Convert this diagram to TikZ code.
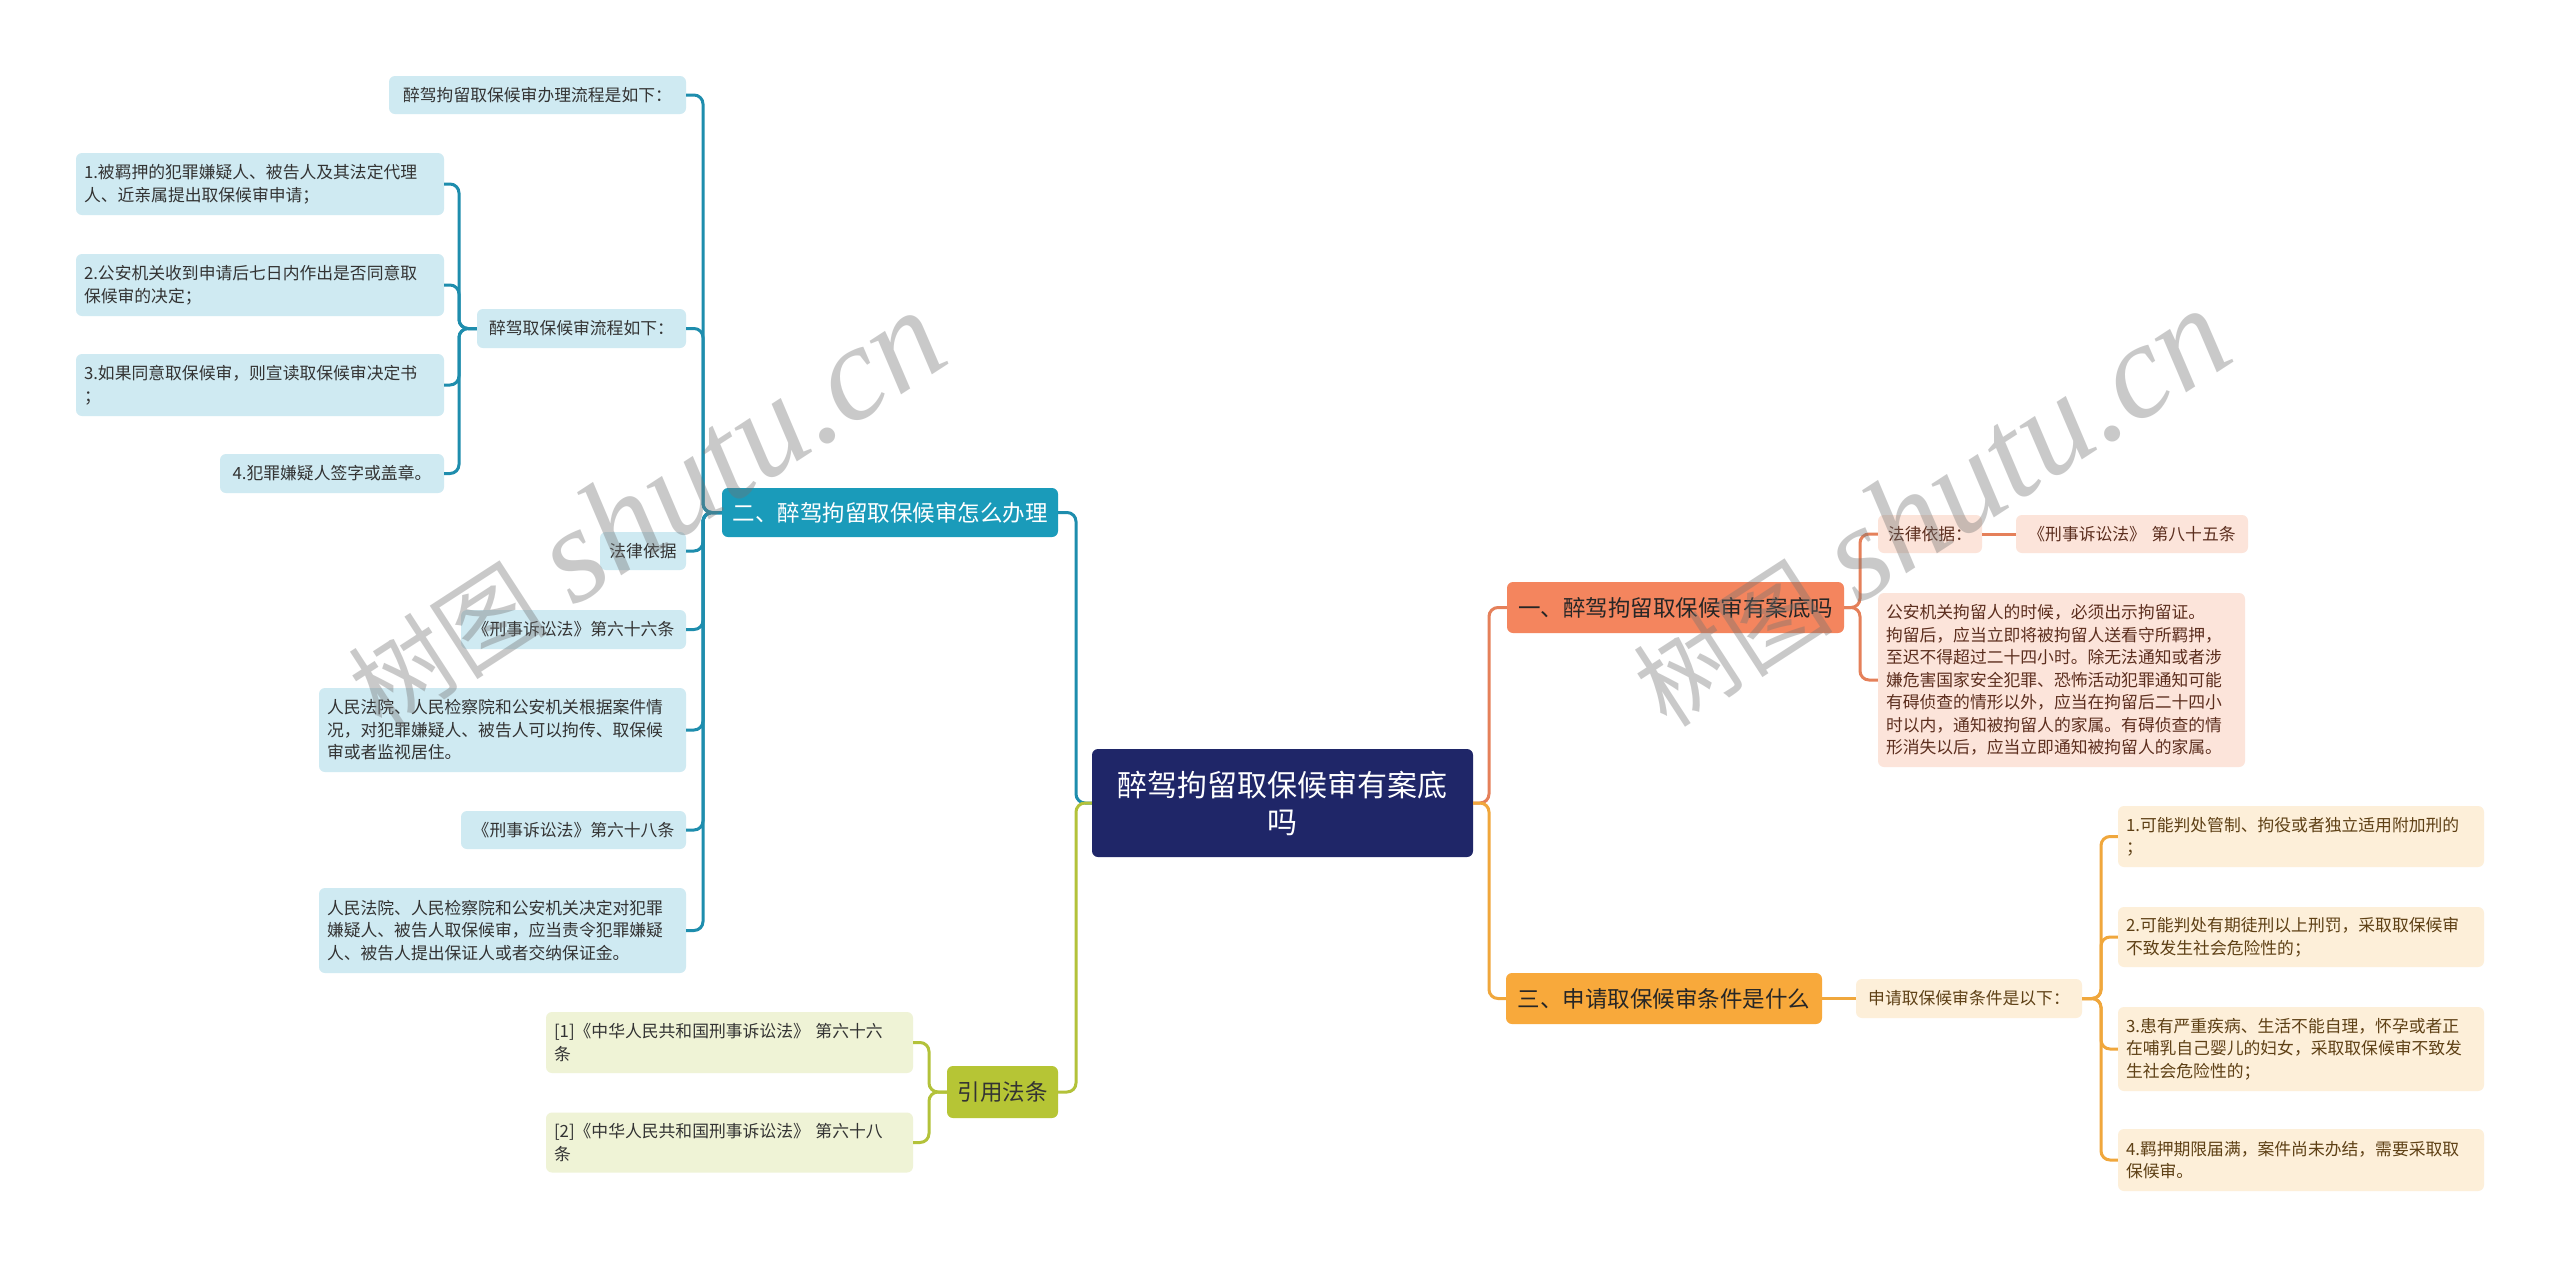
\documentclass[tikz,border=0pt]{standalone}
\usepackage{fontspec}
\newfontfamily\cjk{Noto Sans CJK SC}
\newfontfamily\wmlat{Liberation Serif}
\definecolor{navy}{HTML}{1F2668}
\definecolor{tealA}{HTML}{1A9BBA}
\definecolor{tealL}{HTML}{1E8DAD}
\definecolor{tealC}{HTML}{CFEAF2}
\definecolor{oliveA}{HTML}{B6C535}
\definecolor{oliveL}{HTML}{B3C23A}
\definecolor{oliveC}{HTML}{EFF3D6}
\definecolor{coralA}{HTML}{F4855E}
\definecolor{coralL}{HTML}{E5805A}
\definecolor{coralC}{HTML}{FCE4DA}
\definecolor{orA}{HTML}{F8A93B}
\definecolor{orL}{HTML}{F0A73C}
\definecolor{orC}{HTML}{FDEFD9}
\definecolor{txtD}{HTML}{333333}
\definecolor{txtCoral}{HTML}{5C2E1E}
\definecolor{txtOr}{HTML}{5E4015}
\begin{document}
\begin{tikzpicture}[x=1pt,y=-1pt,
  box/.style={rounded corners=6pt, inner xsep=8pt, inner ysep=0pt, anchor=center,
    font=\cjk\fontsize{16.8}{22.5}\selectfont},
  tealbox/.style={box, fill=tealC, text=txtD},
  olivebox/.style={box, fill=oliveC, text=txtD},
  coralbox/.style={box, fill=coralC, text=txtCoral},
  orbox/.style={box, fill=orC, text=txtOr},
  branch/.style={rounded corners=6pt, inner xsep=8pt, inner ysep=0pt, anchor=center,
    align=center, font=\cjk\fontsize{22.5}{27}\selectfont},
  link/.style={line width=3pt, rounded corners=9pt},
  wm/.style={rotate=33, text=black!55, text opacity=0.38, inner sep=0pt}
]
\useasboundingbox (0,0) rectangle (2560,1267);
\fill[white] (0,0) rectangle (2560,1267);

% ---------- centre ----------
\node[rounded corners=6pt, fill=navy, text=white, align=center, text width=365pt,
  minimum height=108pt, inner xsep=8pt, inner ysep=0pt,
  font=\cjk\fontsize{30}{37}\selectfont] (root) at (1282.5,803) {醉驾拘留取保候审有案底\\吗};

% ---------- branches ----------
\node[branch, fill=tealA, text=white, text width=320pt, minimum height=49pt] (n2) at (890,512.5) {二、醉驾拘留取保候审怎么办理};
\node[branch, fill=oliveA, text=txtD, text width=95pt, minimum height=52pt] (yy) at (1002.5,1092) {引用法条};
\node[branch, fill=coralA, text=black!85, text width=321pt, minimum height=51pt] (n1) at (1675.5,607.5) {一、醉驾拘留取保候审有案底吗};
\node[branch, fill=orA, text=black!85, text width=300pt, minimum height=51pt] (n3) at (1664,998.5) {三、申请取保候审条件是什么};

% ---------- teal children ----------
\node[tealbox, align=center, text width=281pt, minimum height=38pt] (t1) at (537.5,95) {醉驾拘留取保候审办理流程是如下：};
\node[tealbox, align=center, text width=193pt, minimum height=39pt] (s2) at (581.5,328.5) {醉驾取保候审流程如下：};
\node[tealbox, align=center, text width=70pt, minimum height=38pt] (t3) at (643,551) {法律依据};
\node[tealbox, align=center, text width=209pt, minimum height=39pt] (t4) at (573.5,629.5) {《刑事诉讼法》第六十六条};
\node[tealbox, align=left, text width=351pt, minimum height=84pt] (t5) at (502.5,730) {人民法院、人民检察院和公安机关根据案件情\\况，对犯罪嫌疑人、被告人可以拘传、取保候\\审或者监视居住。};
\node[tealbox, align=center, text width=209pt, minimum height=38pt] (t6) at (573.5,830) {《刑事诉讼法》第六十八条};
\node[tealbox, align=left, text width=351pt, minimum height=85pt] (t7) at (502.5,930.5) {人民法院、人民检察院和公安机关决定对犯罪\\嫌疑人、被告人取保候审，应当责令犯罪嫌疑\\人、被告人提出保证人或者交纳保证金。};

\node[tealbox, align=left, text width=352pt, minimum height=62pt] (sa) at (260,184) {1.被羁押的犯罪嫌疑人、被告人及其法定代理\\人、近亲属提出取保候审申请；};
\node[tealbox, align=left, text width=352pt, minimum height=62pt] (sb) at (260,285) {2.公安机关收到申请后七日内作出是否同意取\\保候审的决定；};
\node[tealbox, align=left, text width=352pt, minimum height=62pt] (sc) at (260,385) {3.如果同意取保候审，则宣读取保候审决定书\\；};
\node[tealbox, align=center, text width=208pt, minimum height=39pt] (sd) at (332,473.5) {4.犯罪嫌疑人签字或盖章。};

% ---------- olive children ----------
\node[olivebox, align=left, text width=351pt, minimum height=61pt] (g1) at (729.5,1042.5) {[1]《中华人民共和国刑事诉讼法》 第六十六\\条};
\node[olivebox, align=left, text width=351pt, minimum height=60pt] (g2) at (729.5,1142.5) {[2]《中华人民共和国刑事诉讼法》 第六十八\\条};

% ---------- coral children ----------
\node[coralbox, align=center, text width=88pt, minimum height=38pt] (c1) at (1930,534) {法律依据：};
\node[coralbox, align=center, text width=216pt, minimum height=38pt] (c2) at (2132,534) {《刑事诉讼法》 第八十五条};
\node[coralbox, align=left, text width=351pt, minimum height=174pt] (c3) at (2061.5,680) {公安机关拘留人的时候，必须出示拘留证。\\拘留后，应当立即将被拘留人送看守所羁押，\\至迟不得超过二十四小时。除无法通知或者涉\\嫌危害国家安全犯罪、恐怖活动犯罪通知可能\\有碍侦查的情形以外，应当在拘留后二十四小\\时以内，通知被拘留人的家属。有碍侦查的情\\形消失以后，应当立即通知被拘留人的家属。};

% ---------- orange children ----------
\node[orbox, align=center, text width=210pt, minimum height=39pt] (o1) at (1969,998.5) {申请取保候审条件是以下：};
\node[orbox, align=left, text width=350pt, minimum height=61pt] (o2) at (2301,836.5) {1.可能判处管制、拘役或者独立适用附加刑的\\；};
\node[orbox, align=left, text width=350pt, minimum height=60pt] (o3) at (2301,937) {2.可能判处有期徒刑以上刑罚，采取取保候审\\不致发生社会危险性的；};
\node[orbox, align=left, text width=350pt, minimum height=84pt] (o4) at (2301,1049) {3.患有严重疾病、生活不能自理，怀孕或者正\\在哺乳自己婴儿的妇女，采取取保候审不致发\\生社会危险性的；};
\node[orbox, align=left, text width=350pt, minimum height=62pt] (o5) at (2301,1160) {4.羁押期限届满，案件尚未办结，需要采取取\\保候审。};

% ---------- connectors ----------
\draw[link, draw=tealL] (n2.east) -| (1076,803) -- (root.west);
\draw[link, draw=oliveL] (yy.east) -| (1076,803) -- (root.west);
\draw[link, draw=coralL] (n1.west) -| (1489,803) -- (root.east);
\draw[link, draw=orL] (n3.west) -| (1489,803) -- (root.east);

\foreach \c in {t1,s2,t3,t4,t5,t6,t7}
  \draw[link, draw=tealL] (\c.east) -| (703,512.5) -- (n2.west);
\foreach \c in {sa,sb,sc,sd}
  \draw[link, draw=tealL] (\c.east) -| (459,328.5) -- (s2.west);
\foreach \c in {g1,g2}
  \draw[link, draw=oliveL] (\c.east) -| (929,1092) -- (yy.west);
\foreach \c in {c1,c3}
  \draw[link, draw=coralL] (\c.west) -| (1860,607.5) -- (n1.east);
\draw[link, draw=coralL] (c1.east) -- (c2.west);
\draw[link, draw=orL] (n3.east) -- (o1.west);
\foreach \c in {o2,o3,o4,o5}
  \draw[link, draw=orL] (\c.west) -| (2101,998.5) -- (o1.east);

% ---------- watermarks ----------
\node[wm] (wm1) at (645,510) {{\cjk\fontsize{100}{100}\selectfont 树图}\hspace{28pt}{\wmlat\itshape\fontsize{135}{135}\selectfont shutu.cn}};
\node[wm] (wm2) at (1930,508) {{\cjk\fontsize{100}{100}\selectfont 树图}\hspace{28pt}{\wmlat\itshape\fontsize{135}{135}\selectfont shutu.cn}};
\end{tikzpicture}
\end{document}
